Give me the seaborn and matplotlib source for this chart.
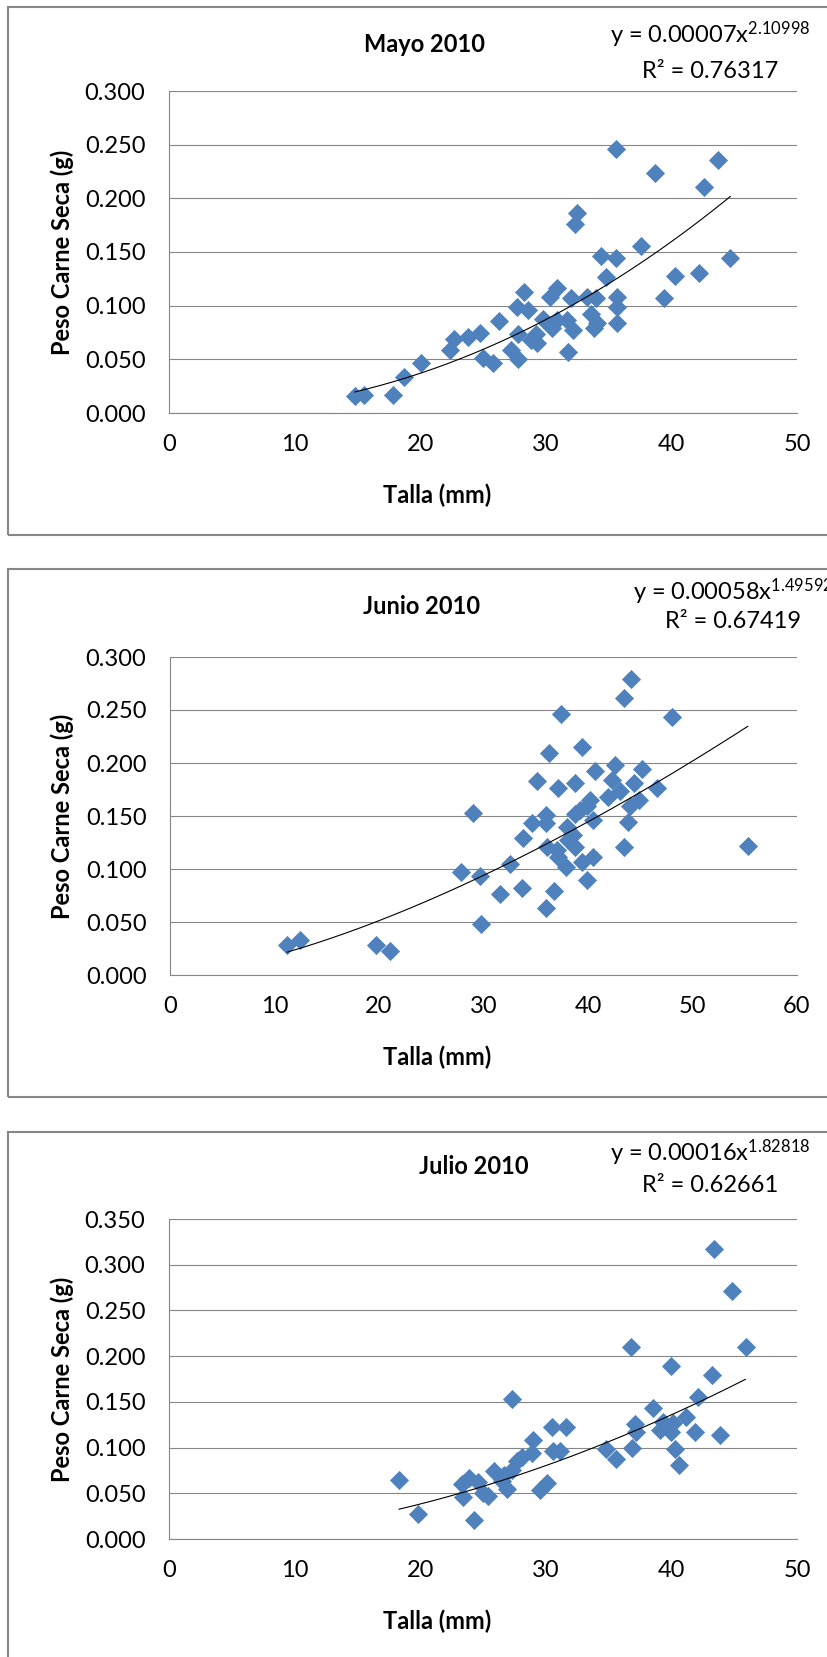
import numpy as np
import matplotlib
matplotlib.use("Agg")
import matplotlib.pyplot as plt
from matplotlib.patches import Rectangle
from matplotlib.ticker import MultipleLocator, StrMethodFormatter
import seaborn as sns

# --- data (Talla mm, Peso Carne Seca g) ---
mayo_talla = [14.8, 15.5, 17.8, 18.7, 20.1, 22.4, 22.7, 23.8, 24.8, 25.0,
              25.8, 26.3, 27.2, 27.7, 27.8, 27.8, 28.3, 28.6, 28.8, 29.2,
              29.3, 29.8, 30.3, 30.5, 30.9, 30.9, 31.7, 31.8, 32.0, 32.2,
              32.3, 32.5, 33.3, 33.6, 33.8, 34.0, 34.1, 34.4, 34.8, 35.6,
              35.6, 35.7, 35.7, 35.7, 37.6, 38.7, 39.4, 40.3, 42.2, 42.6,
              43.7, 44.7]
mayo_peso = [0.016, 0.017, 0.017, 0.034, 0.047, 0.059, 0.069, 0.071, 0.075, 0.051,
             0.047, 0.086, 0.059, 0.099, 0.050, 0.074, 0.113, 0.096, 0.068, 0.074,
             0.065, 0.088, 0.108, 0.079, 0.116, 0.087, 0.087, 0.057, 0.107, 0.077,
             0.176, 0.186, 0.108, 0.092, 0.079, 0.107, 0.084, 0.146, 0.127, 0.246,
             0.144, 0.108, 0.099, 0.084, 0.156, 0.224, 0.107, 0.128, 0.130, 0.211,
             0.236, 0.144]

junio_talla = [11.2, 12.4, 19.7, 21.1, 27.8, 29.0, 29.7, 29.8, 31.6, 32.5,
               33.7, 33.8, 34.6, 35.1, 36.0, 36.0, 36.0, 36.1, 36.3, 36.7,
               37.0, 37.1, 37.1, 37.4, 37.9, 38.0, 38.1, 38.6, 38.8, 38.8,
               38.8, 39.2, 39.4, 39.4, 39.9, 39.9, 40.2, 40.5, 40.5, 40.7,
               41.9, 42.3, 42.6, 43.1, 43.4, 43.4, 43.8, 44.0, 44.1, 44.4,
               44.9, 45.2, 46.6, 48.0, 55.3]
junio_peso = [0.028, 0.033, 0.028, 0.023, 0.097, 0.153, 0.093, 0.048, 0.076, 0.105,
              0.082, 0.129, 0.143, 0.183, 0.151, 0.143, 0.063, 0.121, 0.209, 0.079,
              0.118, 0.176, 0.111, 0.246, 0.102, 0.140, 0.127, 0.132, 0.181, 0.152,
              0.121, 0.156, 0.215, 0.107, 0.159, 0.090, 0.165, 0.146, 0.111, 0.192,
              0.168, 0.184, 0.198, 0.174, 0.261, 0.121, 0.144, 0.159, 0.279, 0.181,
              0.165, 0.194, 0.176, 0.243, 0.122]

julio_talla = [18.3, 19.8, 23.3, 23.4, 23.9, 24.3, 24.6, 25.0, 25.4, 25.9,
               26.5, 26.7, 26.9, 27.3, 27.3, 27.7, 28.1, 28.9, 29.0, 29.5,
               30.1, 30.5, 30.6, 31.1, 31.6, 34.8, 35.6, 36.8, 36.9, 37.1,
               37.2, 38.5, 39.1, 39.3, 40.0, 40.0, 40.1, 40.3, 40.6, 41.2,
               41.9, 42.1, 43.2, 43.4, 43.9, 44.8, 45.9]
julio_peso = [0.065, 0.027, 0.060, 0.046, 0.067, 0.021, 0.062, 0.050, 0.047, 0.074,
              0.063, 0.070, 0.055, 0.075, 0.153, 0.085, 0.090, 0.094, 0.108, 0.054,
              0.061, 0.122, 0.096, 0.096, 0.123, 0.098, 0.088, 0.210, 0.100, 0.126,
              0.117, 0.143, 0.119, 0.128, 0.189, 0.117, 0.127, 0.098, 0.081, 0.133,
              0.117, 0.155, 0.179, 0.317, 0.114, 0.271, 0.210]

titles = ["Mayo 2010", "Junio 2010", "Julio 2010"]
# power trendline y = a * x^b (a for Mayo is the unrounded value, the label shows 0.00007)
coef_a = [0.0000665, 0.00058, 0.00016]
coef_b = [2.10998, 1.49592, 1.82818]
coef_a_txt = ["0.00007", "0.00058", "0.00016"]
r2_txt = ["0.76317", "0.67419", "0.62661"]
x_max = [50, 60, 50]
y_max = [0.300, 0.300, 0.350]

# --- layout in pixels of the 828x1657 picture ---
W, H = 828, 1657
axes_px = [(169, 797, 91, 413), (170, 797, 657, 975), (169, 797, 1219, 1539)]
border_px = [(7, 535), (569, 1097), (1132, 1700)]
title_px = [(424, 45), (422, 607), (474, 1167)]
eq_px = [(710, 35, 72), (733, 592, 622), (710, 1153, 1185)]

BLUE = "#4F81BD"
GRAY = "#868686"

sns.set_theme(style="white")
plt.rcParams["font.family"] = ["Lato", "DejaVu Sans"]
plt.rcParams["mathtext.fontset"] = "custom"
plt.rcParams["mathtext.rm"] = "Lato"
plt.rcParams["mathtext.it"] = "Lato"
plt.rcParams["mathtext.bf"] = "Lato:bold"

fig = plt.figure(figsize=(W / 100, H / 100), dpi=100)
fig.patch.set_facecolor("white")


def fx(px):
    return px / W


def fy(py):
    return 1 - py / H


panels = [(mayo_talla, mayo_peso), (junio_talla, junio_peso), (julio_talla, julio_peso)]

for i, (talla, peso) in enumerate(panels):
    left, right, top, bottom = axes_px[i]
    ax = fig.add_axes([fx(left), fy(bottom), (right - left) / W, (bottom - top) / H])

    # chart border (right side runs off the picture, like the reference)
    b_top, b_bot = border_px[i]
    fig.patches.append(Rectangle((fx(8), fy(b_bot)), fx(900), (b_bot - b_top) / H,
                                 transform=fig.transFigure, fill=False,
                                 edgecolor=GRAY, linewidth=1.5, zorder=0))

    sns.scatterplot(x=talla, y=peso, marker="D", s=95, color=BLUE,
                    linewidth=0, ax=ax, zorder=3, clip_on=False)

    xs = np.linspace(min(talla), max(talla), 200)
    ys = coef_a[i] * xs ** coef_b[i]
    sns.lineplot(x=xs, y=ys, color="black", linewidth=0.8, ax=ax, zorder=4)

    ax.set_xlim(0, x_max[i])
    ax.set_ylim(0, y_max[i])
    ax.xaxis.set_major_locator(MultipleLocator(10))
    ax.yaxis.set_major_locator(MultipleLocator(0.05))
    ax.yaxis.set_major_formatter(StrMethodFormatter("{x:.3f}"))

    ax.grid(axis="y", color=GRAY, linewidth=0.8)
    ax.grid(axis="x", visible=False)
    for side in ["top", "right"]:
        ax.spines[side].set_visible(False)
    for side in ["left", "bottom"]:
        ax.spines[side].set_color(GRAY)
        ax.spines[side].set_linewidth(0.8)

    ax.tick_params(axis="both", direction="out", length=7, width=0.8,
                   color=GRAY, labelsize=17, labelcolor="black")
    ax.tick_params(axis="x", pad=8)
    ax.tick_params(axis="y", pad=10)

    ax.set_xlabel("Talla (mm)", fontsize=17, fontweight="bold", color="black")
    ax.set_ylabel("Peso Carne Seca (g)", fontsize=17, fontweight="bold", color="black")
    ax.xaxis.label.set_va("center")
    ax.yaxis.label.set_va("center")
    ax.xaxis.set_label_coords(0.5 + (437 - (left + right) / 2) / (right - left),
                              -82 / (bottom - top))
    ax.yaxis.set_label_coords((62 - left) / (right - left), 0.5)

    tx, ty = title_px[i]
    fig.text(fx(tx), fy(ty), titles[i], ha="center", va="center",
             fontsize=17, fontweight="bold", color="black")

    # equation box; Junio's runs past the right edge in the reference too
    ex, ey1, ey2 = eq_px[i]
    fig.text(fx(ex), fy(ey1), "y = " + coef_a_txt[i] + "x$^{" + str(coef_b[i]) + "}$",
             ha="center", va="center", fontsize=17, color="black")
    fig.text(fx(ex), fy(ey2), "R\u00b2 = " + r2_txt[i],
             ha="center", va="center", fontsize=17, color="black")

fig.savefig("out.png", dpi=100)
